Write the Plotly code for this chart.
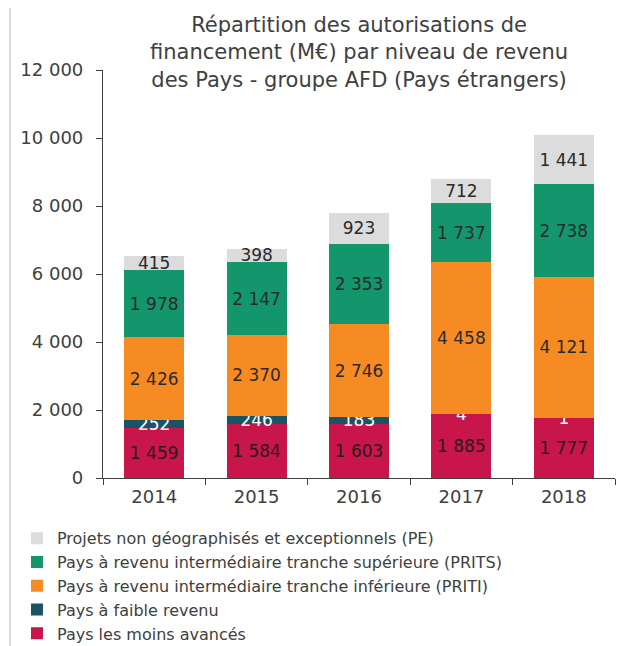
import plotly.graph_objects as go

years = ["2014", "2015", "2016", "2017", "2018"]
pma = [1459, 1584, 1603, 1885, 1777]
pfr = [252, 246, 183, 4, 1]
priti = [2426, 2370, 2746, 4458, 4121]
prits = [1978, 2147, 2353, 1737, 2738]
pe = [415, 398, 923, 712, 1441]

series = [
    ("Pays les moins avancés", pma, "#C8164B", "#2A1A1A"),
    ("Pays à faible revenu", pfr, "#1B5366", "#FFFFFF"),
    ("Pays à revenu intermédiaire tranche inférieure (PRITI)", priti, "#F68B24", "#2A2A2A"),
    ("Pays à revenu intermédiaire tranche supérieure (PRITS)", prits, "#14966C", "#2A2A2A"),
    ("Projets non géographisés et exceptionnels (PE)", pe, "#DCDCDC", "#2A2A2A"),
]

FONT = "DejaVu Sans"
TXT = "#404040"
fig = go.Figure()
for name, vals, color, tcolor in series:
    fig.add_trace(go.Bar(
        x=years, y=vals, name=name,
        marker=dict(color=color, line=dict(width=0)),
        text=vals, texttemplate="%{y:,}",
        textposition="inside", insidetextanchor="middle",
        textangle=0,
        textfont=dict(color=tcolor, size=17, family=FONT),
        cliponaxis=False,
    ))

# page has an 8px body margin: figure is drawn 8px smaller, offsets compensated
fig.update_layout(
    barmode="stack",
    bargap=0.415,
    width=620, height=638,
    margin=dict(l=95, r=13, t=62, b=168, autoexpand=False),
    paper_bgcolor="white", plot_bgcolor="white",
    separators=", ",
    font=dict(family=FONT, color=TXT),
    uniformtext=dict(minsize=17, mode="show"),
    legend=dict(
        traceorder="reversed",
        orientation="v",
        x=-0.168, xanchor="left",
        y=-0.106, yanchor="top",
        font=dict(size=16, family=FONT, color=TXT),
        tracegroupgap=0,
        bgcolor="rgba(0,0,0,0)",
    ),
    showlegend=True,
)

fig.add_annotation(
    text="Répartition des autorisations de<br>financement (M€) par niveau de revenu<br>des Pays - groupe AFD (Pays étrangers)",
    xref="paper", yref="paper", x=0.5, y=1.145,
    xanchor="center", yanchor="top", showarrow=False, align="center",
    font=dict(size=21, family=FONT, color=TXT),
)

fig.update_xaxes(
    showline=True, linecolor=TXT, linewidth=1.2,
    ticks="outside", tickson="boundaries", ticklen=6, tickcolor=TXT,
    tickfont=dict(size=18, family=FONT, color=TXT),
    ticklabelstandoff=2,
    showgrid=False,
)
fig.update_yaxes(
    range=[0, 12000], dtick=2000, tickformat=",d",
    showline=True, linecolor=TXT, linewidth=1.2,
    ticks="outside", ticklen=6, tickcolor=TXT,
    tickfont=dict(size=18, family=FONT, color=TXT),
    ticklabelstandoff=9,
    showgrid=False, zeroline=False,
)

fig.add_shape(type="line", xref="paper", yref="paper",
              x0=-0.1816, x1=-0.1816, y0=-0.42, y1=1.16,
              line=dict(color="#D0D0D0", width=1.5))

fig.write_html("out.html")
